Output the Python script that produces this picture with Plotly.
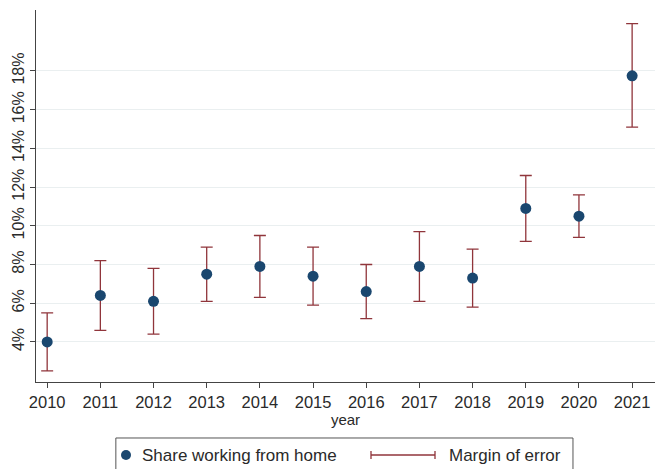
import plotly.graph_objects as go

# Share of workers working from home, with margin-of-error bounds (percent)
years = [2010, 2011, 2012, 2013, 2014, 2015, 2016, 2017, 2018, 2019, 2020, 2021]
share = [4.0, 6.4, 6.1, 7.5, 7.9, 7.4, 6.6, 7.9, 7.3, 10.9, 10.5, 17.75]
upper = [5.5, 8.2, 7.8, 8.9, 9.5, 8.9, 8.0, 9.7, 8.8, 12.6, 11.6, 20.45]
lower = [2.5, 4.6, 4.4, 6.1, 6.3, 5.9, 5.2, 6.1, 5.8, 9.2, 9.4, 15.1]
y_ticks = [4, 6, 8, 10, 12, 14, 16, 18]

NAVY = "#1a476f"
MAROON = "#90353b"
FONT = "Liberation Sans, Arial, sans-serif"
TEXT = "#2a2a2a"

err_plus = [u - s for u, s in zip(upper, share)]
err_minus = [s - l for s, l in zip(share, lower)]

fig = go.Figure()

# Margin of error bars (drawn on an invisible marker layer)
fig.add_trace(go.Scatter(
    x=years, y=share, mode="markers",
    marker=dict(size=1, color="rgba(0,0,0,0)"),
    error_y=dict(type="data", symmetric=False, array=err_plus, arrayminus=err_minus,
                 color=MAROON, thickness=1.3, width=6),
    showlegend=False, hoverinfo="skip",
))

# Point estimates
fig.add_trace(go.Scatter(
    x=years, y=share, mode="markers",
    marker=dict(size=11, color=NAVY, line=dict(width=0)),
    showlegend=False,
))

# Legend box drawn in paper coordinates
shapes = [
    dict(type="rect", xref="paper", yref="paper", x0=0.129, x1=0.8675, y0=-0.26, y1=-0.1505,
         line=dict(color="#555555", width=1), fillcolor="white", layer="above"),
    dict(type="circle", xref="paper", yref="paper",
         x0=(126 - 36 - 5) / 619, x1=(126 - 36 + 5) / 619,
         y0=(382 - 455 - 5) / 372, y1=(382 - 455 + 5) / 372,
         line=dict(width=0), fillcolor=NAVY, layer="above"),
    dict(type="line", xref="paper", yref="paper",
         x0=(371 - 36) / 619, x1=(435 - 36) / 619,
         y0=(382 - 455) / 372, y1=(382 - 455) / 372,
         line=dict(color=MAROON, width=1.3), layer="above"),
]
for cx in (371, 435):
    shapes.append(dict(type="line", xref="paper", yref="paper",
                       x0=(cx - 36) / 619, x1=(cx - 36) / 619,
                       y0=(382 - 451) / 372, y1=(382 - 459) / 372,
                       line=dict(color=MAROON, width=1.3), layer="above"))

annotations = [
    dict(text="Share working from home", xref="paper", yref="paper",
         x=(140 - 36) / 619, y=(382 - 455) / 372, xanchor="left", yanchor="middle",
         showarrow=False, font=dict(family=FONT, size=17, color=TEXT)),
    dict(text="Margin of error", xref="paper", yref="paper",
         x=(447 - 36) / 619, y=(382 - 455) / 372, xanchor="left", yanchor="middle",
         showarrow=False, font=dict(family=FONT, size=17, color=TEXT)),
]

fig.update_layout(
    width=662, height=469,
    margin=dict(l=36, r=7, t=10, b=87),
    paper_bgcolor="white", plot_bgcolor="white",
    font=dict(family=FONT, size=16.5, color=TEXT),
    showlegend=False,
    shapes=shapes, annotations=annotations,
    xaxis=dict(
        range=[2009.79, 2021.43], tickmode="array", tickvals=years,
        ticks="outside", ticklen=5, tickcolor="#444444",
        showline=True, linecolor="#444444", linewidth=1,
        showgrid=False, zeroline=False,
        title=dict(text="year", font=dict(size=15), standoff=0),
        tickfont=dict(size=16.5),
    ),
    yaxis=dict(
        range=[1.93, 21.15], tickmode="array", tickvals=y_ticks,
        ticktext=[f"{v}%" for v in y_ticks],
        tickangle=-90, ticks="outside", ticklen=5, tickcolor="#444444",
        showline=True, linecolor="#444444", linewidth=1,
        showgrid=True, gridcolor="#eaeff0", gridwidth=1,
        zeroline=False, tickfont=dict(size=16),
    ),
)

fig.write_html("out.html")
